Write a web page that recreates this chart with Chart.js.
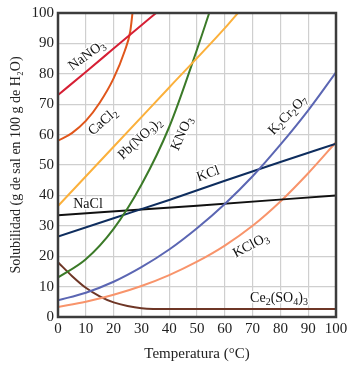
<!DOCTYPE html>
<html>
<head>
<meta charset="utf-8">
<script src="https://cdn.jsdelivr.net/npm/chart.js@4.4.1/dist/chart.umd.min.js"></script>
<style>body{margin:0;background:#fff}</style>
</head>
<body>
<canvas id="solubilidad" width="354" height="367"></canvas>
<script>
// temperatura (°C) y solubilidad (g / 100 g H2O)
const nano3T = [0, 10, 20, 30, 35.3];
const nano3S = [73, 80.6, 88.3, 96, 100];

const cacl2T = [0, 5, 10, 15, 20, 24, 26, 26.8];
const cacl2S = [58, 60.5, 64.5, 70.5, 78.5, 87.5, 94, 100];

const pbno3T = [0, 20, 40, 60, 64.7];
const pbno3S = [36.5, 56, 75.5, 95, 100];

const kno3T = [0, 10, 20, 30, 40, 50, 54.4];
const kno3S = [13, 19, 29, 43.5, 62.5, 88, 100];

const k2cr2o7T = [0, 10, 20, 30, 40, 50, 60, 70, 80, 90, 100];
const k2cr2o7S = [5.5, 8, 11.6, 16.4, 22.2, 29.2, 37.2, 46.3, 56.7, 68, 80.5];

const kclT = [0, 20, 40, 60, 80, 100];
const kclS = [26.5, 32.5, 38.5, 44.8, 51, 57];

const naclT = [0, 50, 100];
const naclS = [33.5, 36.6, 40];

const kclo3T = [0, 10, 20, 30, 40, 50, 60, 70, 80, 90, 100];
const kclo3S = [3.3, 5, 7.3, 10.2, 13.8, 18.2, 23.5, 30, 38, 47.3, 57.5];

const ce2so4T = [0, 5, 10, 15, 20, 25, 30, 40, 100];
const ce2so4S = [18, 13.5, 9.6, 6.8, 4.8, 3.6, 2.9, 2.6, 2.6];

const xTicks = [0, 10, 20, 30, 40, 50, 60, 70, 80, 90, 100];

function pts(t, s) {
  return t.map((v, i) => ({x: v, y: s[i]}));
}

function serie(label, t, s, color) {
  return {
    label: label,
    data: pts(t, s),
    borderColor: color,
    borderWidth: 2,
    pointRadius: 0,
    fill: false,
    cubicInterpolationMode: 'monotone'
  };
}

// etiquetas sobre las curvas, "_" marca el subíndice
const curveLabels = [
  {text: 'NaNO_3', t: 10.4, s: 86, angle: -36},
  {text: 'CaCl_2', t: 16.2, s: 64.2, angle: -41},
  {text: 'Pb(NO_3)_2', t: 29.5, s: 58.6, angle: -43},
  {text: 'KNO_3', t: 44.6, s: 60.3, angle: -66},
  {text: 'K_2Cr_2O_7', t: 82.7, s: 66.4, angle: -46},
  {text: 'KCl', t: 54, s: 47, angle: -20},
  {text: 'NaCl', t: 10.8, s: 37.1, angle: 0},
  {text: 'KClO_3', t: 69.4, s: 23.5, angle: -28},
  {text: 'Ce_2(SO_4)_3', t: 79.5, s: 6.2, angle: 0}
];

const SERIF = '"Liberation Serif", "DejaVu Serif", serif';

function splitParts(str) {
  const parts = [];
  let i = 0;
  while (i < str.length) {
    if (str[i] === '_') {
      parts.push({txt: str[i + 1], sub: true});
      i += 2;
    } else {
      let j = i;
      while (j < str.length && str[j] !== '_') j++;
      parts.push({txt: str.slice(i, j), sub: false});
      i = j;
    }
  }
  return parts;
}

const labelPlugin = {
  id: 'curveLabels',
  afterDatasetsDraw(chart) {
    const ctx = chart.ctx;
    const xs = chart.scales.x, ys = chart.scales.y;
    curveLabels.forEach(l => {
      const parts = splitParts(l.text);
      let w = 0;
      parts.forEach(p => {
        ctx.font = (p.sub ? '10px ' : '14px ') + SERIF;
        p.w = ctx.measureText(p.txt).width;
        w += p.w;
      });
      ctx.save();
      ctx.translate(xs.getPixelForValue(l.t), ys.getPixelForValue(l.s));
      ctx.rotate(l.angle * Math.PI / 180);
      ctx.textBaseline = 'middle';
      ctx.textAlign = 'left';
      ctx.lineJoin = 'round';
      let x;
      [true, false].forEach(halo => {
        x = -w / 2;
        parts.forEach(p => {
          ctx.font = (p.sub ? '10px ' : '14px ') + SERIF;
          const y = p.sub ? 4 : 0;
          if (halo) {
            ctx.strokeStyle = '#fff';
            ctx.lineWidth = 3;
            ctx.strokeText(p.txt, x, y);
          } else {
            ctx.fillStyle = '#111';
            ctx.fillText(p.txt, x, y);
          }
          x += p.w;
        });
      });
      ctx.restore();
    });
    // marco del área
    const a = chart.chartArea;
    ctx.save();
    ctx.strokeStyle = '#3c3c3c';
    ctx.lineWidth = 2.5;
    ctx.strokeRect(a.left, a.top, a.right - a.left, a.bottom - a.top);
    ctx.restore();
  }
};

new Chart(document.getElementById('solubilidad'), {
  type: 'line',
  data: {
    datasets: [
      serie('NaNO3', nano3T, nano3S, '#d61f34'),
      serie('CaCl2', cacl2T, cacl2S, '#e0561b'),
      serie('Pb(NO3)2', pbno3T, pbno3S, '#fbb03b'),
      serie('KNO3', kno3T, kno3S, '#3b7a28'),
      serie('K2Cr2O7', k2cr2o7T, k2cr2o7S, '#5b66b3'),
      serie('KCl', kclT, kclS, '#0e2d5e'),
      serie('NaCl', naclT, naclS, '#111111'),
      serie('KClO3', kclo3T, kclo3S, '#f8946b'),
      serie('Ce2(SO4)3', ce2so4T, ce2so4S, '#6e3626')
    ]
  },
  options: {
    responsive: false,
    animation: false,
    layout: {padding: {top: 10, right: 18, left: 0, bottom: 0}},
    plugins: {legend: {display: false}, tooltip: {enabled: false}},
    scales: {
      x: {
        type: 'linear',
        min: 0,
        max: 100,
        afterBuildTicks: s => { s.ticks = xTicks.map(v => ({value: v})); },
        afterFit: s => { s.height = 50; },
        grid: {color: '#cfcfcf', lineWidth: 1.2, drawTicks: false},
        border: {display: false},
        ticks: {color: '#222', padding: 3, maxRotation: 0, font: {family: SERIF, size: 15}},
        title: {display: true, text: 'Temperatura (°C)', color: '#222', padding: {top: 0, bottom: 4},
                font: {family: SERIF, size: 15}}
      },
      y: {
        min: 0,
        max: 100,
        afterFit: s => { s.width = 58; },
        grid: {color: '#cfcfcf', lineWidth: 1.2, drawTicks: false},
        border: {display: false},
        ticks: {stepSize: 10, color: '#222', padding: 4, font: {family: SERIF, size: 15}},
        title: {display: true, text: 'Solubilidad (g de sal en 100 g de H₂O)', color: '#222',
                padding: {top: 8, bottom: 0}, font: {family: SERIF, size: 14}}
      }
    }
  },
  plugins: [labelPlugin]
});
</script>
</body>
</html>
